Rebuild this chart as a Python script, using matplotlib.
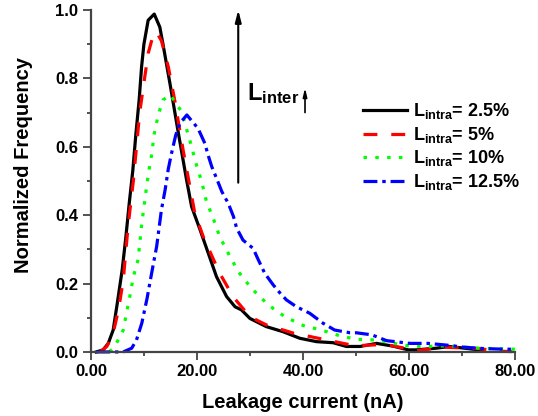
import matplotlib
matplotlib.use("Agg")
import matplotlib.pyplot as plt

plt.rcParams['font.family'] = ['Liberation Sans', 'DejaVu Sans']
plt.rcParams['font.weight'] = 'bold'
plt.rcParams['mathtext.fontset'] = 'custom'
plt.rcParams['mathtext.rm'] = 'Liberation Sans:bold'
plt.rcParams['mathtext.bf'] = 'Liberation Sans:bold'
plt.rcParams['mathtext.it'] = 'Liberation Sans:bold'
plt.rcParams['lines.scale_dashes'] = False

# data (leakage current in nA, normalized frequency)
x_25 = [1.0, 2.3, 3.27, 4.2, 4.97, 5.9, 6.6, 7.23, 7.9, 8.5, 9.1, 9.56, 10.0, 10.8, 11.95,
        13.0, 13.6, 14.9, 16.5, 18.05, 19.0, 20.6, 23.7, 25.6, 27.2, 28.4, 30.0, 33.1, 36.3,
        39.4, 42.6, 45.7, 48.2, 50.8, 53.9, 57.0, 59.9, 61.4, 65.2, 67.7, 72.1, 74.0]
y_25 = [0.0, 0.006, 0.025, 0.064, 0.142, 0.24, 0.337, 0.435, 0.53, 0.64, 0.737, 0.834, 0.90,
        0.97, 0.988, 0.95, 0.90, 0.786, 0.64, 0.503, 0.425, 0.357, 0.22, 0.162, 0.132, 0.123,
        0.098, 0.074, 0.059, 0.04, 0.03, 0.027, 0.016, 0.016, 0.025, 0.017, 0.006, 0.006,
        0.011, 0.016, 0.008, 0.006]

x_5 = [1.7, 3.0, 4.2, 5.2, 6.1, 7.0, 8.0, 9.2, 10.8, 11.8, 12.4, 13.3, 14.6, 15.8, 17.4,
       19.6, 21.2, 24.3, 26.9, 30.0, 33.1, 38.2, 44.5, 49.8, 55.5, 61.5, 66.5, 73.0, 77.5, 79.5]
y_5 = [0.0, 0.016, 0.055, 0.123, 0.21, 0.366, 0.50, 0.70, 0.873, 0.93, 0.935, 0.91, 0.834,
       0.737, 0.59, 0.406, 0.337, 0.23, 0.16, 0.103, 0.079, 0.055, 0.035, 0.018, 0.022,
       0.004, 0.014, 0.01, 0.002, 0.001]

x_10 = [3.5, 4.5, 6.1, 6.7, 7.4, 8.0, 8.9, 9.6, 10.5, 10.9, 11.5, 11.9, 12.7, 13.6, 15.0,
        17.1, 19.0, 19.9, 20.9, 21.8, 23.1, 24.3, 25.9, 27.8, 30.3, 33.5, 36.6, 40.1, 43.5,
        47.0, 50.1, 53.6, 56.5, 60.2, 63.6, 67.1, 73.1, 80.0]
y_10 = [0.0, 0.016, 0.064, 0.113, 0.167, 0.22, 0.27, 0.376, 0.483, 0.527, 0.58, 0.635, 0.693,
        0.737, 0.751, 0.703, 0.60, 0.547, 0.498, 0.44, 0.39, 0.337, 0.289, 0.235, 0.186,
        0.137, 0.103, 0.077, 0.064, 0.047, 0.037, 0.035, 0.027, 0.017, 0.016, 0.018, 0.011,
        0.008]

x_125 = [1.0, 4.0, 6.1, 7.7, 8.6, 9.6, 10.6, 11.1, 11.8, 12.4, 13.3, 14.0, 14.6, 15.2, 16.0,
         16.8, 18.1, 20.2, 21.5, 22.1, 22.8, 23.7, 24.7, 25.9, 26.9, 27.5, 28.7, 30.6, 31.6,
         32.8, 34.4, 35.7, 36.9, 38.8, 41.3, 43.8, 46.0, 48.9, 50.1, 53.0, 55.8, 60.2, 63.6,
         67.1, 70.3, 74.0, 77.8, 79.4]
y_125 = [0.0, 0.0, 0.0, 0.011, 0.035, 0.084, 0.157, 0.2, 0.259, 0.308, 0.415, 0.474, 0.535,
         0.58, 0.634, 0.669, 0.693, 0.654, 0.61, 0.576, 0.542, 0.508, 0.469, 0.435, 0.396,
         0.362, 0.327, 0.303, 0.269, 0.23, 0.196, 0.172, 0.152, 0.132, 0.113, 0.084, 0.064,
         0.056, 0.056, 0.05, 0.033, 0.025, 0.025, 0.02, 0.014, 0.01, 0.008, 0.008]

labels = [r'$\mathbf{L_{intra}}$= 2.5%', r'$\mathbf{L_{intra}}$= 5%',
          r'$\mathbf{L_{intra}}$= 10%', r'$\mathbf{L_{intra}}$= 12.5%']
x_ticks = [0, 20, 40, 60, 80]
y_ticks = [0.0, 0.2, 0.4, 0.6, 0.8, 1.0]

fig = plt.figure(figsize=(5.38, 4.16), dpi=100)
ax = fig.add_axes([0.169, 0.154, 0.788, 0.822])

lw = 2.3
l1, = ax.plot(x_25, y_25, color='black', lw=lw)
l2, = ax.plot(x_5, y_5, color='#ff0000', lw=lw, dashes=(10, 10))
l3, = ax.plot(x_10, y_10, color='#00ff00', lw=lw, dashes=(2.5, 6))
l4, = ax.plot(x_125, y_125, color='#0000ff', lw=lw, dashes=(10, 3.5, 2.5, 3.5))
for l in (l1, l2, l3, l4):
    l.set_clip_on(False)

ax.set_xlim(0, 80)
ax.set_ylim(0, 1.0)
ax.set_xticks(x_ticks)
ax.set_xticklabels(['%.2f' % v for v in x_ticks])
ax.set_yticks(y_ticks)
ax.set_yticklabels(['%.1f' % v for v in y_ticks])
ax.set_xticks([10, 30, 50, 70], minor=True)
ax.set_yticks([0.1, 0.3, 0.5, 0.7, 0.9], minor=True)
ax.tick_params(axis='both', which='major', length=5.5, width=1.3, labelsize=12,
               color='#444444', direction='out')
ax.tick_params(axis='both', which='minor', length=2.8, width=1.3, color='#444444',
               direction='out')
for s in ('top', 'right'):
    ax.spines[s].set_visible(False)
for s in ('left', 'bottom'):
    ax.spines[s].set_linewidth(1.6)
    ax.spines[s].set_color('#444444')

ax.set_xlabel('Leakage current (nA)', fontsize=14.5, fontweight='bold')
ax.set_ylabel('Normalized Frequency', fontsize=14.5, fontweight='bold')
ax.xaxis.set_label_coords(0.5, -0.12)
ax.yaxis.set_label_coords(-0.137, 0.547)

# big L_inter arrow
ax.annotate('', xy=(27.8, 1.0), xytext=(27.8, 0.495),
            arrowprops=dict(arrowstyle='-|>,head_length=0.7,head_width=0.18',
                            color='black', lw=1.5, shrinkA=0, shrinkB=0))
ax.text(29.4, 0.737, r'$\mathbf{L_{inter}}$', fontsize=17, ha='left', va='baseline')
ax.annotate('', xy=(40.4, 0.772), xytext=(40.4, 0.70),
            arrowprops=dict(arrowstyle='-|>,head_length=0.5,head_width=0.12',
                            color='black', lw=1.2, shrinkA=0, shrinkB=0))

ax.legend([l1, l2, l3, l4], labels, loc='upper left', bbox_to_anchor=(0.612, 0.77),
          frameon=False, fontsize=13, handlelength=2.45, handletextpad=0.3,
          labelspacing=0.2, borderpad=0.2)

fig.savefig('out.png', dpi=100)
